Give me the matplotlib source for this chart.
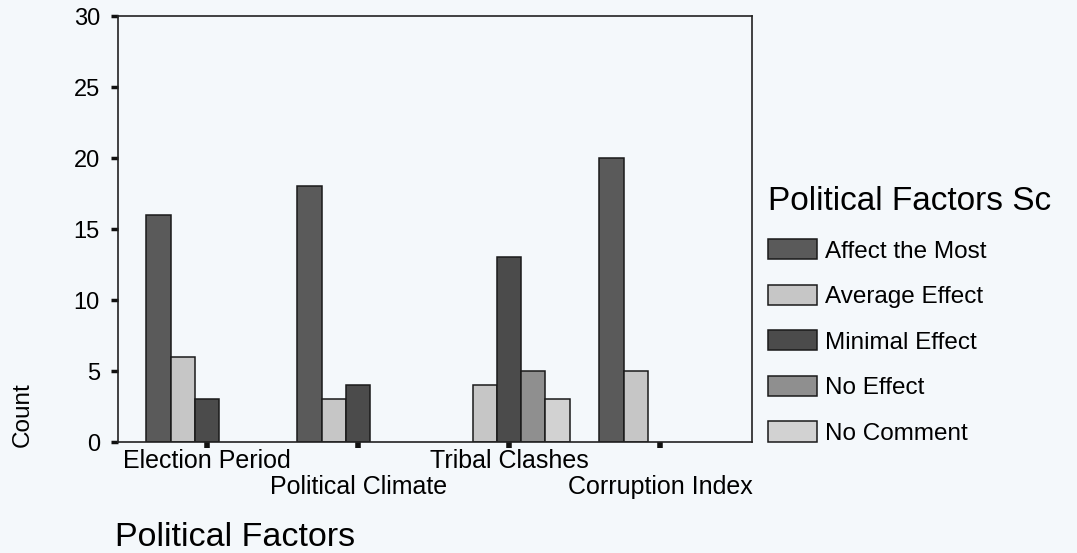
import numpy as np
import matplotlib
matplotlib.use("Agg")
import matplotlib.pyplot as plt

plt.rcParams['font.family'] = ['Liberation Sans', 'DejaVu Sans']

# data
factors = ["Election Period", "Political Climate", "Tribal Clashes", "Corruption Index"]
scores = ["Affect the Most", "Average Effect", "Minimal Effect", "No Effect", "No Comment"]
affect_most = [16, 18, 0, 20]
average_eff = [6, 3, 4, 5]
minimal_eff = [3, 4, 13, 0]
no_effect = [0, 0, 5, 0]
no_comment = [0, 0, 3, 0]
series = [affect_most, average_eff, minimal_eff, no_effect, no_comment]
colors = ["#5a5a5a", "#c6c6c6", "#4b4b4b", "#8f8f8f", "#d2d2d2"]

bg = "#f4f8fb"
fig = plt.figure(figsize=(10.77, 5.53), dpi=100, facecolor=bg)
ax = fig.add_axes([0.1096, 0.2007, 0.5887, 0.7703], facecolor=bg)

x = np.arange(len(factors))
w = 0.161
for i, (vals, c) in enumerate(zip(series, colors)):
    vals = np.array(vals, dtype=float)
    keep = vals > 0  # empty counts get no bar at all
    ax.bar((x + (i - 2) * w)[keep], vals[keep], w, color=c, edgecolor="#1a1a1a",
           linewidth=1.1, label=scores[i])

ax.set_xlim(-0.59, 3.61)
ax.set_ylim(0, 30)
ax.set_yticks([0, 5, 10, 15, 20, 25, 30])
# staggered category labels: even ones on major ticks, odd ones on minor ticks further down
ax.set_xticks(x[0::2])
ax.set_xticklabels(factors[0::2], fontsize=18)
ax.set_xticks(x[1::2], minor=True)
ax.set_xticklabels(factors[1::2], minor=True, fontsize=18)
ax.tick_params(axis="x", which="major", length=4, width=4, color="#111", pad=1)
ax.tick_params(axis="x", which="minor", length=4, width=4, color="#111", pad=20)
ax.tick_params(axis="y", length=5, width=2.5, color="#111", labelsize=17, pad=8)
for s in ax.spines.values():
    s.set_linewidth(1.2)
    s.set_color("#222")

fig.text(0.021, 0.25, "Count", rotation=90, fontsize=17.5, ha="center", va="center",
         family=['Liberation Sans Narrow', 'Liberation Sans'])
fig.text(115 / 1077, 1 - 537 / 553, "Political Factors", fontsize=24.5, ha="left", va="center")

leg = ax.legend(loc="upper left", bbox_to_anchor=(768 / 1077, 1 - 186 / 553),
                bbox_transform=fig.transFigure, frameon=False, fontsize=17.5,
                title="Political Factors Sc", title_fontsize=24, alignment="left",
                handlelength=2.0, handleheight=0.9, labelspacing=0.91, handletextpad=0.33,
                borderaxespad=0, borderpad=0)

fig.savefig("out.png", dpi=100, facecolor=bg)
